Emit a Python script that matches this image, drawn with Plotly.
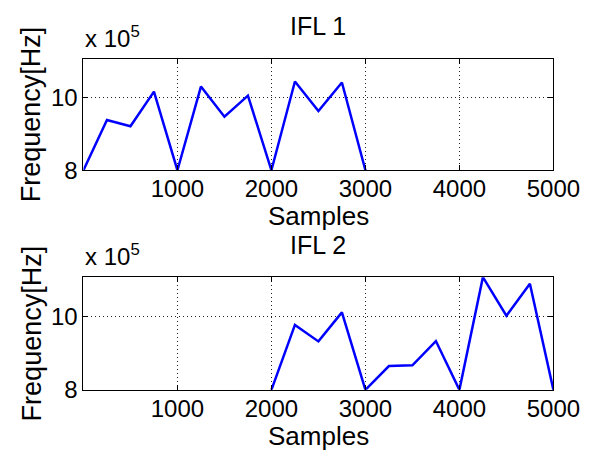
import plotly.graph_objects as go

# Data (frequency values in units of 1e5 Hz)
samples_1 = [0, 250, 500, 750, 1000, 1250, 1500, 1750, 2000, 2250, 2500, 2750, 3000]
freq_1 = [8.0, 9.38, 9.21, 10.16, 8.0, 10.30, 9.47, 10.05, 8.0, 10.44, 9.63, 10.41, 8.0]

samples_2 = [2000, 2250, 2500, 2750, 3000, 3250, 3500, 3750, 4000, 4250, 4500, 4750, 5000]
freq_2 = [8.0, 9.77, 9.32, 10.11, 8.0, 8.65, 8.67, 9.33, 8.0, 11.07, 10.02, 10.89, 8.0]

titles = ["IFL 1", "IFL 2"]
x_ticks = [1000, 2000, 3000, 4000, 5000]
y_ticks = [8, 10]
x_range = [0, 5000]
y_range = [8, 11.07]

W, H = 602, 459
FONT = "Liberation Sans, Arial, sans-serif"

fig = go.Figure()
fig.add_trace(go.Scatter(x=samples_1, y=freq_1, mode="lines",
                         line=dict(color="#0000ff", width=2.5),
                         xaxis="x", yaxis="y", showlegend=False))
fig.add_trace(go.Scatter(x=samples_2, y=freq_2, mode="lines",
                         line=dict(color="#0000ff", width=2.5),
                         xaxis="x2", yaxis="y2", showlegend=False))

xdom = [79 / W, 571 / W]
ydom1 = [1 - 167 / H, 1 - 52 / H]
ydom2 = [1 - 393 / H, 1 - 277 / H]

def axis_common():
    return dict(showline=True, linecolor="black", linewidth=1, mirror="ticks",
                ticks="inside", ticklen=5, tickcolor="black",
                showgrid=True, gridcolor="#222222", gridwidth=1, griddash="1px,3px",
                zeroline=False, tickfont=dict(size=24, color="black", family=FONT))

def xaxis(anchor):
    d = axis_common()
    d.update(domain=xdom, anchor=anchor, range=x_range, tickvals=x_ticks,
             ticktext=[str(v) for v in x_ticks], ticklabelstandoff=-3)
    return d

def yaxis(anchor, dom):
    d = axis_common()
    d.update(domain=dom, anchor=anchor, range=y_range, tickvals=y_ticks,
             ticktext=[str(v) for v in y_ticks])
    return d

annotations = []
for i, (ytop, ybot) in enumerate([(52, 167), (277, 393)]):
    # title
    annotations.append(dict(text=titles[i], x=325 / W, y=1 - (ytop - 33) / H,
                            xref="paper", yref="paper", showarrow=False,
                            xanchor="center", yanchor="middle",
                            font=dict(size=25, color="black", family=FONT)))
    # exponent
    annotations.append(dict(text="x 10<sup>5</sup>", x=78 / W, y=1 - (ytop - 5) / H,
                            xref="paper", yref="paper", showarrow=False,
                            xanchor="left", yanchor="bottom",
                            font=dict(size=24, color="black", family=FONT)))
    # x label
    annotations.append(dict(text="Samples", x=325 / W, y=1 - (ybot + 47) / H,
                            xref="paper", yref="paper", showarrow=False,
                            xanchor="center", yanchor="middle",
                            font=dict(size=26, color="black", family=FONT)))
    # y label
    annotations.append(dict(text="Frequency[Hz]", x=25 / W, y=1 - ((ytop + ybot) / 2) / H,
                            xref="paper", yref="paper", showarrow=False,
                            xanchor="center", yanchor="middle", textangle=-90,
                            font=dict(size=27, color="black", family=FONT)))

fig.update_layout(
    width=W, height=H,
    margin=dict(l=0, r=0, t=0, b=0),
    paper_bgcolor="white", plot_bgcolor="white",
    xaxis=xaxis("y"), yaxis=yaxis("x", ydom1),
    xaxis2=xaxis("y2"), yaxis2=yaxis("x2", ydom2),
    annotations=annotations,
    font=dict(family=FONT, color="black"),
)

fig.write_html("out.html")
